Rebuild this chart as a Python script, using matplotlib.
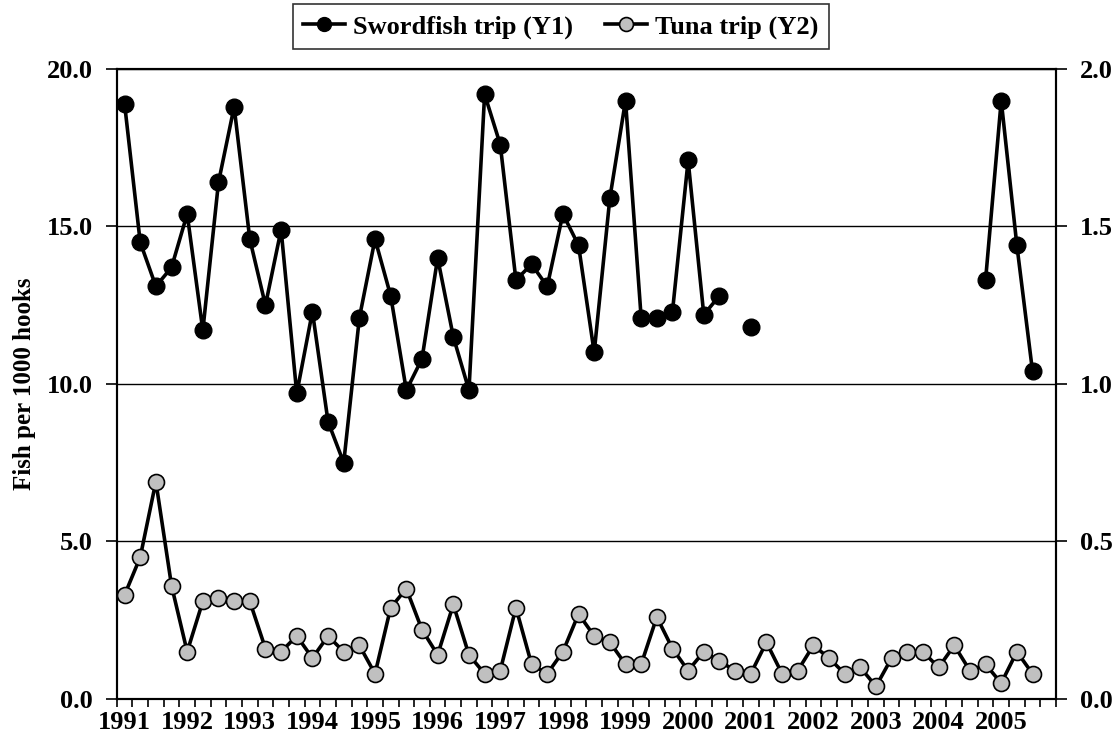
import numpy as np
import matplotlib.pyplot as plt
from matplotlib.lines import Line2D

# quarterly CPUE, 1991 Q1 .. 2005 Q4 (60 quarters)
nan = np.nan
swordfish = [18.9, 14.5, 13.1, 13.7, 15.4, 11.7, 16.4, 18.8,
             14.6, 12.5, 14.9, 9.7, 12.3, 8.8, 7.5, 12.1,
             14.6, 12.8, 9.8, 10.8, 14.0, 11.5, 9.8, 19.2,
             17.6, 13.3, 13.8, 13.1, 15.4, 14.4, 11.0, 15.9,
             19.0, 12.1, 12.1, 12.3, 17.1, 12.2, 12.8, nan,
             11.8, nan, nan, nan, nan, nan, nan, nan,
             nan, nan, nan, nan, nan, nan, nan, 13.3,
             19.0, 14.4, 10.4, nan]
tuna = [0.33, 0.45, 0.69, 0.36, 0.15, 0.31, 0.32, 0.31,
        0.31, 0.16, 0.15, 0.20, 0.13, 0.20, 0.15, 0.17,
        0.08, 0.29, 0.35, 0.22, 0.14, 0.30, 0.14, 0.08,
        0.09, 0.29, 0.11, 0.08, 0.15, 0.27, 0.20, 0.18,
        0.11, 0.11, 0.26, 0.16, 0.09, 0.15, 0.12, 0.09,
        0.08, 0.18, 0.08, 0.09, 0.17, 0.13, 0.08, 0.10,
        0.04, 0.13, 0.15, 0.15, 0.10, 0.17, 0.09, 0.11,
        0.05, 0.15, 0.08, nan]
years = list(range(1991, 2006))

plt.rcParams['font.family'] = ['Liberation Serif', 'DejaVu Serif']
plt.rcParams['font.weight'] = 'bold'
plt.rcParams['font.size'] = 19

n = len(swordfish)
x = np.arange(n) + 0.5

fig = plt.figure(figsize=(11.17, 7.42), dpi=100)
ax1 = fig.add_axes([0.1045, 0.058, 0.8409, 0.849])
ax2 = ax1.twinx()

ax1.plot(x, swordfish, color='black', lw=2.6, marker='o', ms=12,
         mfc='black', mec='black', zorder=3)
ax2.plot(x, tuna, color='black', lw=2.6, marker='o', ms=11.5,
         mfc='#c0c0c0', mec='black', mew=1.2, zorder=3)

ax1.set_xlim(0, n)
ax1.set_ylim(0, 20)
ax2.set_ylim(0, 2.0)
ax1.set_yticks(np.arange(0, 21, 5))
ax1.set_yticklabels([f"{v:.1f}" for v in np.arange(0, 21, 5)])
ax2.set_yticks(np.arange(0, 2.01, 0.5))
ax2.set_yticklabels([f"{v:.1f}" for v in np.arange(0, 2.01, 0.5)])

# tick marks at quarter boundaries, year labels centred on Q1
ax1.set_xticks(np.arange(0, n + 1))
ax1.set_xticklabels([])
ax1.set_xticks(np.arange(0, n, 4) + 0.5, minor=True)
ax1.set_xticklabels([str(y) for y in years], minor=True)
ax1.tick_params(axis='x', which='major', direction='out', length=6, width=1.2)
ax1.tick_params(axis='x', which='minor', length=0, pad=9)
ax1.tick_params(axis='y', direction='out', length=8, width=1.2, pad=9)
ax2.tick_params(axis='y', direction='out', length=8, width=1.2, pad=9)

ax1.grid(axis='y', color='black', lw=1)
ax1.set_axisbelow(True)
for a in (ax1, ax2):
    for s in a.spines.values():
        s.set_linewidth(1.5)

ax1.set_ylabel("Fish per 1000 hooks", fontsize=18, fontweight='bold', labelpad=8)

handles = [Line2D([], [], color='black', lw=2.6, marker='o', ms=10,
                  mfc='black', mec='black'),
           Line2D([], [], color='black', lw=2.6, marker='o', ms=10,
                  mfc='#c0c0c0', mec='black', mew=1.2)]
leg = fig.legend(handles, ["Swordfish trip (Y1)", "Tuna trip (Y2)"],
                 loc='upper center', bbox_to_anchor=(0.502, 0.998), ncol=2,
                 frameon=True, fancybox=False, edgecolor='black',
                 handlelength=1.6, handletextpad=0.3, columnspacing=1.2,
                 borderpad=0.4, borderaxespad=0.1,
                 prop={'weight': 'bold', 'size': 19})
leg.get_frame().set_linewidth(1.2)

fig.savefig("out.png", dpi=100)
